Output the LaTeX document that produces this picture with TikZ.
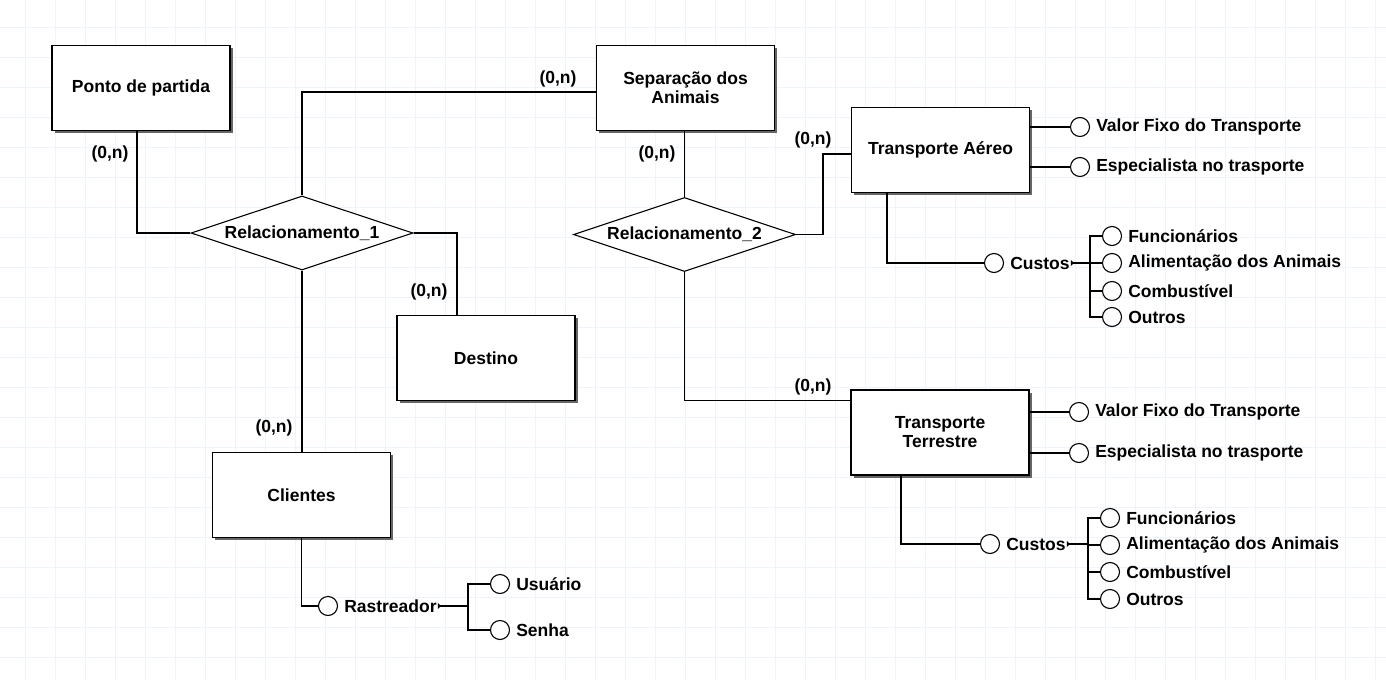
\documentclass[tikz,border=0pt]{standalone}
\usepackage{fontspec}
\setmainfont{Liberation Sans}
\usepackage{xcolor}
\usetikzlibrary{shapes.geometric,shadows,arrows.meta}
\usetikzlibrary{calc,positioning}

\definecolor{gradeazul}{RGB}{239,244,251}

\tikzset{
    entidade/.style={draw, fill=white, line width=1.3pt, minimum width=178pt, minimum height=85pt,
        align=center, font=\fontsize{17.5}{19}\selectfont\bfseries,
        drop shadow={shadow xshift=2.5pt, shadow yshift=-2.5pt, fill=black!60, opacity=1}},
    relacao/.style={draw, fill=white, diamond, aspect=3, line width=1.1pt, inner sep=0pt,
        minimum width=222pt, minimum height=74pt, font=\fontsize{17.5}{19}\selectfont\bfseries},
    atrib/.style={draw, fill=white, circle, line width=1.1pt, inner sep=0pt, minimum size=19pt},
    texto/.style={inner sep=1pt, font=\fontsize{17.5}{19}\selectfont\bfseries},
    card/.style={inner sep=1pt, font=\fontsize{17.5}{19}\selectfont\bfseries},
    liga/.style={line width=1.3pt},
    seta/.style={line width=1.3pt, {Triangle[reversed, length=3pt, width=6pt]}-}
}

\begin{document}
\begin{tikzpicture}[x=1pt,y=-1pt]

    % Fundo e grade
    \useasboundingbox (0,0) rectangle (1386,680);
    \fill[white] (0,0) rectangle (1386,680);
    \foreach \x in {25,55,...,1385} {
        \draw[gradeazul, line width=1pt] (\x,0) -- (\x,680);
    }
    \foreach \y in {27,57,...,677} {
        \draw[gradeazul, line width=1pt] (0,\y) -- (1386,\y);
    }

    % Entidades
    \node[entidade] (ponto) at (141,88) {Ponto de partida};
    \node[entidade] (separa) at (685.5,88) {Separação dos\\Animais};
    \node[entidade] (aereo) at (940.5,150) {Transporte Aéreo};
    \node[entidade] (destino) at (486,358) {Destino};
    \node[entidade] (clientes) at (301.5,495) {Clientes};
    \node[entidade] (terrestre) at (940,432.5) {Transporte\\Terrestre};

    % Relacionamentos
    \node[relacao] (rel1) at (302,233) {Relacionamento\_1};
    \node[relacao] (rel2) at (684.5,234.5) {Relacionamento\_2};

    % Ligacoes
    \draw[liga] ([xshift=-4pt]ponto.south) |- (rel1.west);
    \draw[liga] (rel1.north) |- ([yshift=-4pt]separa.west);
    \draw[liga] (rel1.east) -| ([xshift=-29pt]destino.north);
    \draw[liga] (rel1.south) -- (rel1.south |- clientes.north);
    \draw[liga] (rel2.north) -- (rel2.north |- separa.south);
    \draw[liga] (rel2.east) -- ++(27,0) |- ([yshift=-4pt]aereo.west);
    \draw[liga] (rel2.south) |- ([yshift=32pt]terrestre.west);

    % Cardinalidades
    \node[card] (c1) at (110,154) {(0,n)};
    \node[card] (c2) at (558,79) {(0,n)};
    \node[card] (c3) at (429,292) {(0,n)};
    \node[card] (c4) at (274,428) {(0,n)};
    \node[card] (c5) at (657,154) {(0,n)};
    \node[card] (c6) at (813,140) {(0,n)};
    \node[card] (c7) at (813,387) {(0,n)};

    % Atributos: transporte aereo
    \node[atrib] (vfA) at (1080,127) {};
    \node[texto, right=5pt of vfA] {Valor Fixo do Transporte};
    \node[atrib] (esA) at (1080,167) {};
    \node[texto, right=5pt of esA] {Especialista no trasporte};
    \draw[liga] (aereo.east |- vfA) -- (vfA);
    \draw[liga] (aereo.east |- esA) -- (esA);

    \node[atrib] (cusA) at (994,263) {};
    \node[texto, right=5pt of cusA] (cusAt) {Custos};
    \draw[liga] ([xshift=-53.5pt]aereo.south) |- (cusA);
    \coordinate (bA) at (1090,263);
    \draw[seta] (cusAt.east) -- (bA);
    \node[atrib] (funA) at (1112,236) {};
    \node[atrib] (aliA) at (1112,263) {};
    \node[atrib] (comA) at (1112,291) {};
    \node[atrib] (outA) at (1112,317) {};
    \node[texto, right=5pt of funA] {Funcionários};
    \node[texto, right=5pt of aliA] {Alimentação dos Animais};
    \node[texto, right=5pt of comA] {Combustível};
    \node[texto, right=5pt of outA] {Outros};
    \foreach \s in {funA,aliA,comA,outA} {
        \draw[liga] (bA) |- (\s);
    }

    % Atributos: transporte terrestre
    \node[atrib] (vfT) at (1079,412) {};
    \node[texto, right=5pt of vfT] {Valor Fixo do Transporte};
    \node[atrib] (esT) at (1079,453) {};
    \node[texto, right=5pt of esT] {Especialista no trasporte};
    \draw[liga] (terrestre.east |- vfT) -- (vfT);
    \draw[liga] (terrestre.east |- esT) -- (esT);

    \node[atrib] (cusT) at (990,544) {};
    \node[texto, right=5pt of cusT] (cusTt) {Custos};
    \draw[liga] ([xshift=-39pt]terrestre.south) |- (cusT);
    \coordinate (bT) at (1088,544);
    \draw[seta] (cusTt.east) -- (bT);
    \node[atrib] (funT) at (1110,518) {};
    \node[atrib] (aliT) at (1110,545) {};
    \node[atrib] (comT) at (1110,572) {};
    \node[atrib] (outT) at (1110,599) {};
    \node[texto, right=5pt of funT] {Funcionários};
    \node[texto, right=5pt of aliT] {Alimentação dos Animais};
    \node[texto, right=5pt of comT] {Combustível};
    \node[texto, right=5pt of outT] {Outros};
    \foreach \s in {funT,aliT,comT,outT} {
        \draw[liga] (bT) |- (\s);
    }

    % Atributos: clientes
    \node[atrib] (ras) at (328,606) {};
    \node[texto, right=5pt of ras] (rasT) {Rastreador};
    \draw[liga] (clientes.south) |- (ras);
    \coordinate (bR) at (468,606);
    \draw[seta] (rasT.east) -- (bR);
    \node[atrib] (usu) at (500,584) {};
    \node[atrib] (sen) at (500,630) {};
    \node[texto, right=5pt of usu] {Usuário};
    \node[texto, right=5pt of sen] {Senha};
    \foreach \s in {usu,sen} {
        \draw[liga] (bR) |- (\s);
    }

\end{tikzpicture}
\end{document}
